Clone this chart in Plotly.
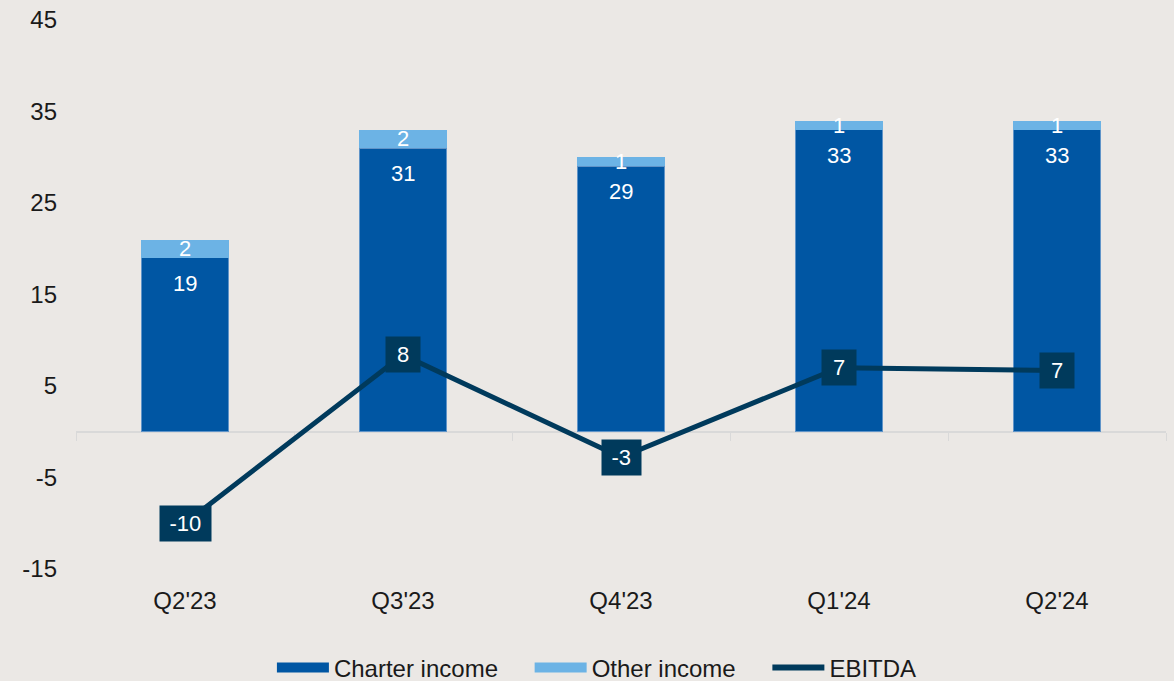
import plotly.graph_objects as go

quarters = ["Q2'23", "Q3'23", "Q4'23", "Q1'24", "Q2'24"]
charter_income = [19, 31, 29, 33, 33]
other_income = [2, 2, 1, 1, 1]
ebitda = [-10, 8.4, -2.8, 7.0, 6.7]
ebitda_labels = ["-10", "8", "-3", "7", "7"]
y_ticks = [-15, -5, 5, 15, 25, 35, 45]
y_tick_text = ["-15", "-5", "5", "15", "25", "35", "45"]

C_CHARTER = "#0056A3"
C_OTHER = "#6CB3E5"
C_EBITDA = "#003A5C"
BG = "#EBE8E5"
FONT = "Liberation Sans, Arial, sans-serif"
FS = 22      # data labels
FS_AX = 24   # axis + legend


def label_width(t, size=FS):
    w = sum(0.333 if ch == "-" else 0.556 for ch in t) * size + 9
    return max(w, 24)


fig = go.Figure()
fig.add_trace(go.Bar(x=quarters, y=charter_income,
                     marker=dict(color=C_CHARTER, line=dict(width=1, color="rgba(160,190,225,0.6)")),
                     showlegend=False, hoverinfo="skip"))
fig.add_trace(go.Bar(x=quarters, y=other_income, marker=dict(color=C_OTHER, line=dict(width=0)),
                     text=[str(v) for v in other_income], textposition="inside", insidetextanchor="middle",
                     textangle=0, constraintext="none",
                     textfont=dict(color="white", size=FS, family=FONT),
                     showlegend=False, hoverinfo="skip"))
fig.add_trace(go.Scatter(x=quarters, y=ebitda, mode="lines", line=dict(color=C_EBITDA, width=5),
                         showlegend=False, hoverinfo="skip"))

# legend entries
NB = "\u00a0" * 4
fig.add_trace(go.Scatter(x=[None], y=[None], mode="lines", line=dict(color=C_CHARTER, width=14),
                         name="Charter income" + NB))
fig.add_trace(go.Scatter(x=[None], y=[None], mode="lines", line=dict(color=C_OTHER, width=14),
                         name="Other income" + NB))
fig.add_trace(go.Scatter(x=[None], y=[None], mode="lines", line=dict(color=C_EBITDA, width=6), name="EBITDA"))

annotations = []
for q, v in zip(quarters, charter_income):
    annotations.append(dict(x=q, y=v, xref="x", yref="y", text=str(v), showarrow=False,
                            yanchor="top", yshift=-11, font=dict(color="white", size=FS, family=FONT)))
for q, v, t in zip(quarters, ebitda, ebitda_labels):
    annotations.append(dict(x=q, y=v, xref="x", yref="y", text=t, showarrow=False,
                            bgcolor=C_EBITDA, borderpad=5, width=label_width(t), align="center",
                            font=dict(color="white", size=FS, family=FONT)))

fig.update_layout(
    width=1174, height=681,
    margin=dict(l=76, r=8, t=20, b=112, autoexpand=False),
    paper_bgcolor=BG, plot_bgcolor=BG,
    barmode="stack", bargap=0.6,
    font=dict(family=FONT, size=FS_AX, color="#1a1a1a"),
    annotations=annotations,
    legend=dict(orientation="h", x=0.4779, xref="paper", xanchor="center", y=-0.18, yanchor="middle",
                traceorder="normal", itemwidth=52,
                font=dict(size=FS_AX, family=FONT, color="#1a1a1a"), bgcolor="rgba(0,0,0,0)"),
    xaxis=dict(type="category", anchor="free", position=0.25, showline=True, linecolor="#D9D9D9", linewidth=2,
               ticks="outside", tickson="boundaries", ticklen=8, tickcolor="#D9D9D9", tickwidth=1,
               ticklabelstandoff=147, showgrid=False, automargin=False, range=[-0.5, 4.5],
               layer="below traces"),
    yaxis=dict(range=[-15, 45], tickvals=y_ticks, ticktext=y_tick_text, showgrid=False, zeroline=False,
               showline=False, ticks="", ticklabelstandoff=18, automargin=False),
)

fig.write_html("out.html", config={"displayModeBar": False},
               post_script="document.body.style.margin='0';document.body.style.padding='0';")
